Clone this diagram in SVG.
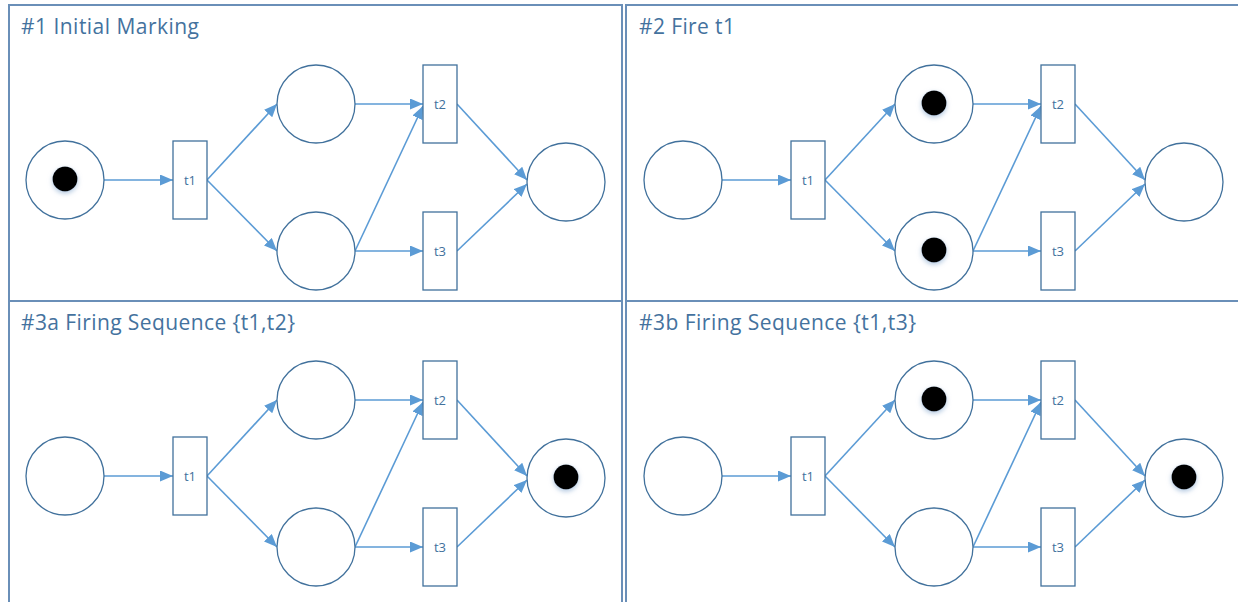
<svg xmlns="http://www.w3.org/2000/svg" width="1238" height="602" viewBox="0 0 1238 602">
<style>
.frame{fill:none;stroke:#6a8fb8;stroke-width:2}
.title{font-family:"Open Sans","Liberation Sans",sans-serif;font-size:21px;fill:#44729e}
.place{fill:#fff;stroke:#41719c;stroke-width:1.3}
.trans{fill:#fff;stroke:#41719c;stroke-width:1.3}
.lbl{font-family:"Open Sans","Liberation Sans",sans-serif;font-size:13px;fill:#41719c;text-anchor:middle;dominant-baseline:central}
.arc{fill:none;stroke:#5b9bd5;stroke-width:1.6;marker-end:url(#ah)}
.token{fill:#000;filter:url(#sh)}
</style>
<defs>
<marker id="ah" viewBox="0 0 13 11" refX="13" refY="5.5" markerWidth="13" markerHeight="11" markerUnits="userSpaceOnUse" orient="auto">
<path d="M0,0 L13,5.5 L0,11 z" fill="#5b9bd5"/>
</marker>
<filter id="sh" x="-60%" y="-60%" width="220%" height="220%">
<feDropShadow dx="0" dy="2" stdDeviation="2.5" flood-color="#9db8d8" flood-opacity="0.8"/>
</filter>
</defs>
<rect fill="#fff" x="0" y="0" width="1238" height="602"/>
<g id="frames">
<rect class="frame" x="9" y="5" width="613" height="296"/>
<rect class="frame" x="626" y="5" width="620" height="296"/>
<rect class="frame" x="9" y="301" width="613" height="310"/>
<rect class="frame" x="626" y="301" width="620" height="310"/>
</g>
<g id="titles">
<text class="title" x="21" y="34" textLength="178">#1 Initial Marking</text>
<text class="title" x="639" y="34" textLength="96">#2 Fire t1</text>
<text class="title" x="21" y="330" textLength="274">#3a Firing Sequence {t1,t2}</text>
<text class="title" x="639" y="330" textLength="277">#3b Firing Sequence {t1,t3}</text>
</g>

<!-- Panel 1 -->
<g id="panel1">
<g id="p1-connectors">
<line class="arc" x1="104" y1="180" x2="173" y2="180"/>
<line class="arc" x1="207" y1="180" x2="277" y2="104"/>
<line class="arc" x1="207" y1="180" x2="277" y2="251"/>
<line class="arc" x1="355" y1="104" x2="423" y2="104"/>
<line class="arc" x1="355" y1="251" x2="423" y2="106"/>
<line class="arc" x1="355" y1="251" x2="423" y2="251"/>
<line class="arc" x1="457" y1="104" x2="527" y2="180"/>
<line class="arc" x1="457" y1="251" x2="527" y2="184"/>
</g>
<g id="p1-P0"><circle class="place" cx="65" cy="180" r="39"/><circle class="token" cx="65" cy="179" r="12.5"/></g>
<g id="p1-t1"><rect class="trans" x="173" y="141" width="34" height="78"/><text class="lbl" x="190" y="180">t1</text></g>
<g id="p1-P1"><circle class="place" cx="316" cy="104" r="39"/></g>
<g id="p1-P2"><circle class="place" cx="316" cy="251" r="39"/></g>
<g id="p1-t2"><rect class="trans" x="423" y="65" width="34" height="78"/><text class="lbl" x="440" y="104">t2</text></g>
<g id="p1-t3"><rect class="trans" x="423" y="212" width="34" height="78"/><text class="lbl" x="440" y="251">t3</text></g>
<g id="p1-P3"><circle class="place" cx="566" cy="182" r="39"/></g>
</g>

<!-- Panel 2 -->
<g id="panel2" transform="translate(618,0)">
<g id="p2-connectors">
<line class="arc" x1="104" y1="180" x2="173" y2="180"/>
<line class="arc" x1="207" y1="180" x2="277" y2="104"/>
<line class="arc" x1="207" y1="180" x2="277" y2="251"/>
<line class="arc" x1="355" y1="104" x2="423" y2="104"/>
<line class="arc" x1="355" y1="251" x2="423" y2="106"/>
<line class="arc" x1="355" y1="251" x2="423" y2="251"/>
<line class="arc" x1="457" y1="104" x2="527" y2="180"/>
<line class="arc" x1="457" y1="251" x2="527" y2="184"/>
</g>
<g id="p2-P0"><circle class="place" cx="65" cy="180" r="39"/></g>
<g id="p2-t1"><rect class="trans" x="173" y="141" width="34" height="78"/><text class="lbl" x="190" y="180">t1</text></g>
<g id="p2-P1"><circle class="place" cx="316" cy="104" r="39"/><circle class="token" cx="316" cy="103" r="12.5"/></g>
<g id="p2-P2"><circle class="place" cx="316" cy="251" r="39"/><circle class="token" cx="316" cy="250" r="12.5"/></g>
<g id="p2-t2"><rect class="trans" x="423" y="65" width="34" height="78"/><text class="lbl" x="440" y="104">t2</text></g>
<g id="p2-t3"><rect class="trans" x="423" y="212" width="34" height="78"/><text class="lbl" x="440" y="251">t3</text></g>
<g id="p2-P3"><circle class="place" cx="566" cy="182" r="39"/></g>
</g>

<!-- Panel 3a -->
<g id="panel3a" transform="translate(0,296)">
<g id="p3a-connectors">
<line class="arc" x1="104" y1="180" x2="173" y2="180"/>
<line class="arc" x1="207" y1="180" x2="277" y2="104"/>
<line class="arc" x1="207" y1="180" x2="277" y2="251"/>
<line class="arc" x1="355" y1="104" x2="423" y2="104"/>
<line class="arc" x1="355" y1="251" x2="423" y2="106"/>
<line class="arc" x1="355" y1="251" x2="423" y2="251"/>
<line class="arc" x1="457" y1="104" x2="527" y2="180"/>
<line class="arc" x1="457" y1="251" x2="527" y2="184"/>
</g>
<g id="p3a-P0"><circle class="place" cx="65" cy="180" r="39"/></g>
<g id="p3a-t1"><rect class="trans" x="173" y="141" width="34" height="78"/><text class="lbl" x="190" y="180">t1</text></g>
<g id="p3a-P1"><circle class="place" cx="316" cy="104" r="39"/></g>
<g id="p3a-P2"><circle class="place" cx="316" cy="251" r="39"/></g>
<g id="p3a-t2"><rect class="trans" x="423" y="65" width="34" height="78"/><text class="lbl" x="440" y="104">t2</text></g>
<g id="p3a-t3"><rect class="trans" x="423" y="212" width="34" height="78"/><text class="lbl" x="440" y="251">t3</text></g>
<g id="p3a-P3"><circle class="place" cx="566" cy="182" r="39"/><circle class="token" cx="566" cy="181" r="12.5"/></g>
</g>

<!-- Panel 3b -->
<g id="panel3b" transform="translate(618,296)">
<g id="p3b-connectors">
<line class="arc" x1="104" y1="180" x2="173" y2="180"/>
<line class="arc" x1="207" y1="180" x2="277" y2="104"/>
<line class="arc" x1="207" y1="180" x2="277" y2="251"/>
<line class="arc" x1="355" y1="104" x2="423" y2="104"/>
<line class="arc" x1="355" y1="251" x2="423" y2="106"/>
<line class="arc" x1="355" y1="251" x2="423" y2="251"/>
<line class="arc" x1="457" y1="104" x2="527" y2="180"/>
<line class="arc" x1="457" y1="251" x2="527" y2="184"/>
</g>
<g id="p3b-P0"><circle class="place" cx="65" cy="180" r="39"/></g>
<g id="p3b-t1"><rect class="trans" x="173" y="141" width="34" height="78"/><text class="lbl" x="190" y="180">t1</text></g>
<g id="p3b-P1"><circle class="place" cx="316" cy="104" r="39"/><circle class="token" cx="316" cy="103" r="12.5"/></g>
<g id="p3b-P2"><circle class="place" cx="316" cy="251" r="39"/></g>
<g id="p3b-t2"><rect class="trans" x="423" y="65" width="34" height="78"/><text class="lbl" x="440" y="104">t2</text></g>
<g id="p3b-t3"><rect class="trans" x="423" y="212" width="34" height="78"/><text class="lbl" x="440" y="251">t3</text></g>
<g id="p3b-P3"><circle class="place" cx="566" cy="182" r="39"/><circle class="token" cx="566" cy="181" r="12.5"/></g>
</g>
</svg>
